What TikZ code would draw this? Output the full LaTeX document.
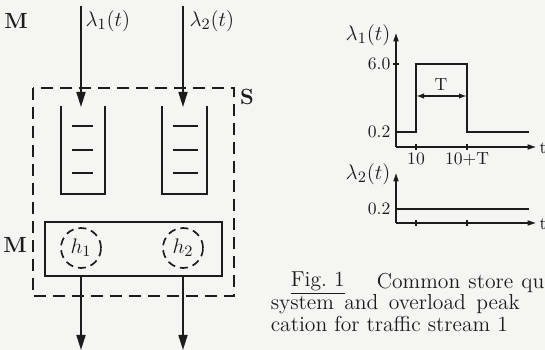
\documentclass[tikz,border=0pt]{standalone}
\usepackage{amsmath}
\usepackage{xcolor}
\usetikzlibrary{arrows.meta}
\definecolor{paper}{HTML}{F5F5F2}
\definecolor{ink}{HTML}{1C1C1C}

\begin{document}
\begin{tikzpicture}[x=0.02cm, y=-0.02cm, line width=0.95pt, color=ink,
  lbl/.style={font=\fontsize{12.5}{14}\selectfont, inner sep=1pt},
  axlbl/.style={font=\fontsize{10}{12}\selectfont, inner sep=1pt},
  captxt/.style={font=\fontsize{12.3}{14}\selectfont, inner sep=0pt, anchor=west},
  bigarr/.style={-{Triangle[length=0.3cm,width=0.18cm]}},
  axarr/.style={-{Triangle[length=0.17cm,width=0.1cm]}},
  sysbox/.style={dash pattern=on 0.24cm off 0.14cm},
  srvbox/.style={draw, minimum width=3.54cm, minimum height=1.08cm, inner sep=0pt},
  hcirc/.style={circle, draw, dash pattern=on 0.16cm off 0.1cm, minimum size=0.8cm, inner sep=0pt, font=\fontsize{13}{15}\selectfont}
]
\fill[paper] (0,0) rectangle (545,350);
\useasboundingbox (0,0) rectangle (545,350);

% Inputs
\node[lbl] (mtop) at (16,21) {\textbf{M}};
\coordinate (in1) at (81,6);
\coordinate (in2) at (183,6);
\node[lbl, anchor=west] (lam1) at (83,21) {$\lambda_1(t)$};
\node[lbl, anchor=west] (lam2) at (187,21) {$\lambda_2(t)$};

% System S
\draw[sysbox] (33,88) rectangle (234,296);
\node[lbl] (s) at (247,97) {\textbf{S}};

% Queue 1
\coordinate (q1) at (81,107);
\draw (61,106) -- (61,194) -- (105,194) -- (105,106);
% Queue 2
\coordinate (q2) at (183,107);
\draw (162,106) -- (162,194) -- (207,194) -- (207,106);
\foreach \y in {126,150,173} {
  \draw (72,\y) -- (93,\y);
  \draw (173,\y) -- (198,\y);
}
\draw[bigarr] (in1) -- (q1);
\draw[bigarr] (in2) -- (q2);

% Common store M with servers
\node[srvbox] (srv) at (133.5,249) {};
\node[lbl] (mleft) at (15,245) {\textbf{M}};
\node[hcirc] (h1) at (81,248) {$h_1$};
\node[hcirc] (h2) at (183,248) {$h_2$};
\coordinate (out1) at (81,350);
\coordinate (out2) at (183,350);
\draw[bigarr] (srv.south -| h1) -- (out1);
\draw[bigarr] (srv.south -| h2) -- (out2);

% Load of stream 1
\coordinate (o1) at (396,147);
\coordinate (y1) at (396,33);
\coordinate (x1) at (536,147);
\draw[axarr] (o1) -- (y1);
\draw[axarr] (o1) -- (x1);
\node[axlbl, anchor=west] (t1) at (537,148) {t};
\node[lbl] (l1) at (368,35) {$\lambda_1(t)$};
\draw (393,64) -- (399,64);
\draw (416,144) -- (416,150);
\draw (467,144) -- (467,150);
\node[axlbl, anchor=east] (v60) at (393,64) {6.0};
\node[axlbl, anchor=east] (v02a) at (393,132) {0.2};
\node[axlbl] (k10) at (416,159) {10};
\node[axlbl] (k10T) at (467,159) {10+T};
\draw (396,132) -- (416,132) -- (416,64) -- (467,64) -- (467,132) -- (529,132);
\coordinate (ta) at (416,96);
\coordinate (tb) at (467,96);
\draw[{Latex[length=0.16cm,width=0.11cm]}-{Latex[length=0.16cm,width=0.11cm]}] (ta) -- (tb);
\node[axlbl] (tlen) at (441,85) {T};

% Load of stream 2
\coordinate (o2) at (396,223);
\coordinate (y2) at (396,173);
\coordinate (x2) at (536,223);
\draw[axarr] (o2) -- (y2);
\draw[axarr] (o2) -- (x2);
\node[axlbl, anchor=west] (t2) at (537,224) {t};
\node[lbl] (l2) at (368,174) {$\lambda_2(t)$};
\draw (416,220) -- (416,226);
\draw (467,220) -- (467,226);
\node[axlbl, anchor=east] (v02b) at (393,209) {0.2};
\draw (396,209) -- (529,209);

% Caption
\node[captxt] (fig) at (290,283) {\underline{Fig.~1}};
\node[captxt] (c1) at (376,283) {\makebox[3.35cm][s]{Common store qu}};
\node[captxt] (c2) at (270,304) {\makebox[4.98cm][s]{system and overload peak}};
\node[captxt] (c3) at (270,324) {cation for traffic stream 1};
\end{tikzpicture}
\end{document}
